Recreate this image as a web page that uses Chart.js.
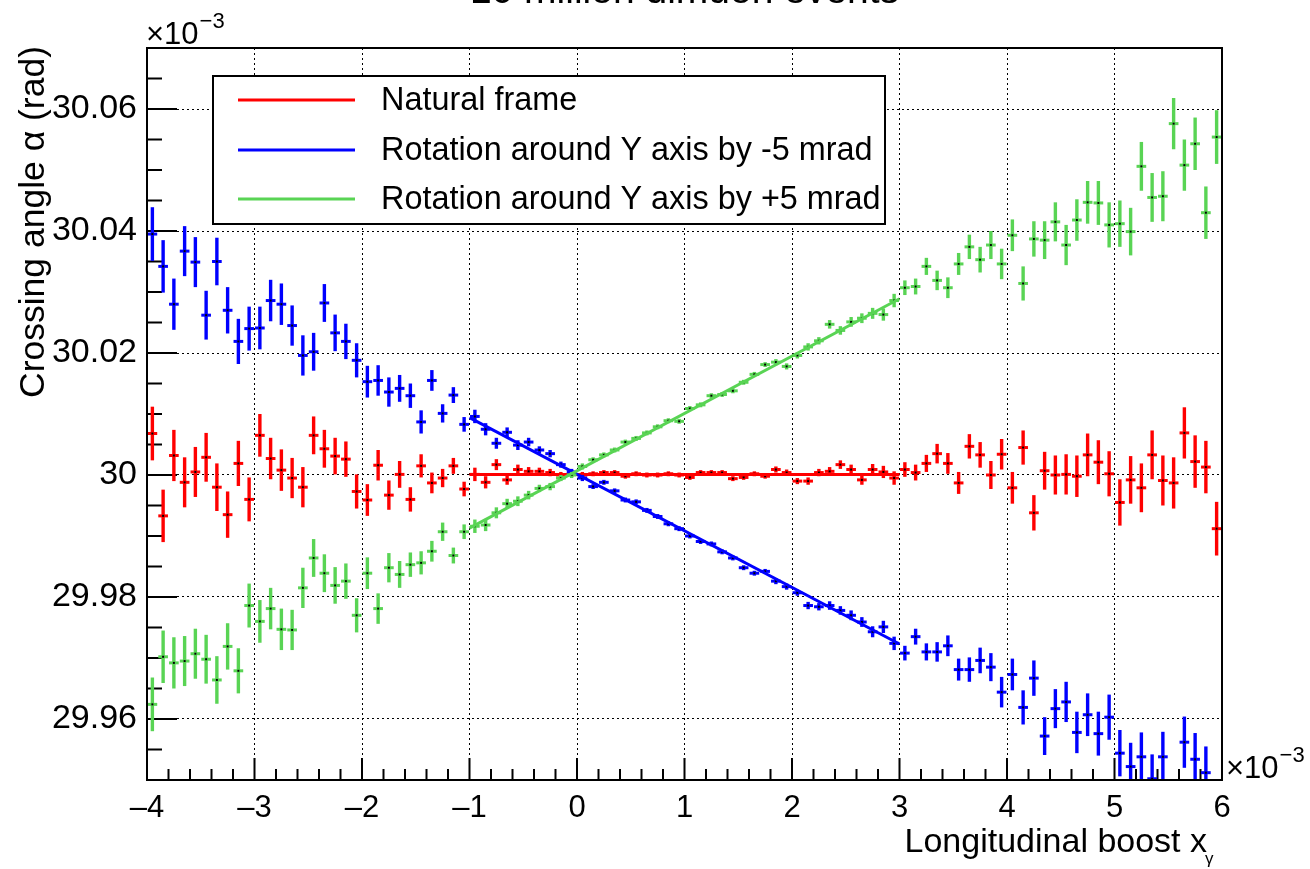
<!DOCTYPE html>
<html>
<head>
<meta charset="utf-8">
<script src="https://cdn.jsdelivr.net/npm/chart.js@4.4.0/dist/chart.umd.min.js"></script>
<style>
  html, body { margin: 0; padding: 0; background: #fff; }
  canvas { display: block; }
</style>
</head>
<body>
<canvas id="chart" width="1310" height="869"></canvas>
<script>
/* bin centres, units of 1e-3 */
const binX = [
  -3.95, -3.85, -3.75, -3.65, -3.55, -3.45, -3.35, -3.25, -3.15, -3.05,
  -2.95, -2.85, -2.75, -2.65, -2.55, -2.45, -2.35, -2.25, -2.15, -2.05,
  -1.95, -1.85, -1.75, -1.65, -1.55, -1.45, -1.35, -1.25, -1.15, -1.05,
  -0.95, -0.85, -0.75, -0.65, -0.55, -0.45, -0.35, -0.25, -0.15, -0.05,
  0.05, 0.15, 0.25, 0.35, 0.45, 0.55, 0.65, 0.75, 0.85, 0.95,
  1.05, 1.15, 1.25, 1.35, 1.45, 1.55, 1.65, 1.75, 1.85, 1.95,
  2.05, 2.15, 2.25, 2.35, 2.45, 2.55, 2.65, 2.75, 2.85, 2.95,
  3.05, 3.15, 3.25, 3.35, 3.45, 3.55, 3.65, 3.75, 3.85, 3.95,
  4.05, 4.15, 4.25, 4.35, 4.45, 4.55, 4.65, 4.75, 4.85, 4.95,
  5.05, 5.15, 5.25, 5.35, 5.45, 5.55, 5.65, 5.75, 5.85, 5.95
];

const naturalY = [
  30.0068, 29.9933, 30.0032, 29.9988, 30.0005, 30.0029, 29.9980, 29.9935, 30.0019, 29.9960,
  30.0065, 30.0027, 30.0008, 29.9995, 29.9980, 30.0065, 30.0043, 30.0031, 30.0026, 29.9973,
  29.9959, 30.0016, 29.9967, 30.0001, 29.9960, 30.0015, 29.9987, 29.9995, 30.0015, 29.9977,
  30.0001, 29.9988, 30.0017, 29.9992, 30.0009, 30.0006, 30.0006, 30.0004, 30.0000, 30.0002,
  30.0000, 30.0002, 30.0004, 30.0004, 29.9998, 30.0002, 30.0000, 30.0000, 30.0002, 30.0000,
  29.9996, 30.0004, 30.0004, 30.0004, 29.9994, 29.9996, 30.0002, 29.9998, 30.0009, 30.0004,
  29.9990, 29.9990, 30.0004, 30.0006, 30.0017, 30.0009, 29.9992, 30.0009, 30.0005, 29.9995,
  30.0009, 30.0004, 30.0019, 30.0035, 30.0019, 29.9987, 30.0047, 30.0033, 30.0000, 30.0034,
  29.9979, 30.0045, 29.9938, 30.0007, 30.0000, 30.0001, 29.9998, 30.0033, 30.0021, 30.0002,
  29.9955, 29.9992, 29.9979, 30.0033, 29.9991, 29.9987, 30.0069, 30.0022, 30.0013, 29.9912
];

const rotMinusY = [
  30.0395, 30.0342, 30.0280, 30.0367, 30.0349, 30.0262, 30.0350, 30.0270, 30.0219, 30.0240,
  30.0241, 30.0286, 30.0280, 30.0245, 30.0196, 30.0202, 30.0282, 30.0233, 30.0219, 30.0188,
  30.0153, 30.0155, 30.0136, 30.0142, 30.0130, 30.0087, 30.0155, 30.0101, 30.0131, 30.0083,
  30.0096, 30.0075, 30.0052, 30.0070, 30.0049, 30.0054, 30.0041, 30.0035, 30.0017, 30.0005,
  29.9995, 29.9981, 29.9988, 29.9974, 29.9959, 29.9956, 29.9942, 29.9932, 29.9920, 29.9912,
  29.9900, 29.9891, 29.9887, 29.9874, 29.9864, 29.9848, 29.9839, 29.9842, 29.9826, 29.9817,
  29.9807, 29.9786, 29.9784, 29.9786, 29.9778, 29.9770, 29.9759, 29.9743, 29.9751, 29.9724,
  29.9708, 29.9735, 29.9710, 29.9710, 29.9720, 29.9681, 29.9681, 29.9696, 29.9685, 29.9644,
  29.9673, 29.9619, 29.9667, 29.9572, 29.9617, 29.9628, 29.9578, 29.9607, 29.9576, 29.9603,
  29.9544, 29.9522, 29.9538, 29.9502, 29.9538, 29.9440, 29.9562, 29.9534, 29.9512, 29.9440
];

const rotPlusY = [
  29.9624, 29.9702, 29.9692, 29.9695, 29.9707, 29.9698, 29.9664, 29.9719, 29.9679, 29.9786,
  29.9760, 29.9781, 29.9747, 29.9746, 29.9815, 29.9864, 29.9839, 29.9819, 29.9826, 29.9770,
  29.9839, 29.9781, 29.9848, 29.9837, 29.9853, 29.9856, 29.9875, 29.9907, 29.9868, 29.9907,
  29.9916, 29.9918, 29.9938, 29.9953, 29.9957, 29.9967, 29.9978, 29.9981, 29.9995, 30.0000,
  30.0014, 30.0025, 30.0033, 30.0041, 30.0054, 30.0060, 30.0069, 30.0079, 30.0089, 30.0088,
  30.0109, 30.0115, 30.0130, 30.0132, 30.0138, 30.0152, 30.0165, 30.0181, 30.0185, 30.0178,
  30.0196, 30.0210, 30.0220, 30.0247, 30.0237, 30.0251, 30.0257, 30.0265, 30.0263, 30.0286,
  30.0307, 30.0309, 30.0342, 30.0319, 30.0307, 30.0346, 30.0374, 30.0353, 30.0377, 30.0346,
  30.0393, 30.0314, 30.0387, 30.0385, 30.0415, 30.0377, 30.0418, 30.0447, 30.0446, 30.0410,
  30.0412, 30.0399, 30.0506, 30.0455, 30.0457, 30.0576, 30.0508, 30.0543, 30.0430, 30.0554
];

/* half error on each bin (same statistics for the three samples) */
const binErr = [
  0.0044, 0.0043, 0.0042, 0.0041, 0.0041, 0.0040, 0.0039, 0.0038, 0.0037, 0.0036,
  0.0035, 0.0034, 0.0034, 0.0033, 0.0033, 0.0031, 0.0031, 0.0030, 0.0029, 0.0028,
  0.0026, 0.0025, 0.0024, 0.0022, 0.0020, 0.0019, 0.0017, 0.0015, 0.0013, 0.0012,
  0.0011, 0.0010, 0.0009, 0.0008, 0.0008, 0.0007, 0.0006, 0.0006, 0.0005, 0.0005,
  0.0005, 0.0004, 0.0004, 0.0004, 0.0004, 0.0004, 0.0004, 0.0004, 0.0004, 0.0004,
  0.0004, 0.0004, 0.0004, 0.0004, 0.0004, 0.0004, 0.0004, 0.0004, 0.0005, 0.0005,
  0.0005, 0.0006, 0.0006, 0.0007, 0.0007, 0.0008, 0.0008, 0.0009, 0.0010, 0.0011,
  0.0012, 0.0013, 0.0014, 0.0016, 0.0017, 0.0018, 0.0020, 0.0021, 0.0023, 0.0025,
  0.0026, 0.0028, 0.0029, 0.0031, 0.0032, 0.0033, 0.0034, 0.0035, 0.0036, 0.0037,
  0.0038, 0.0039, 0.0040, 0.0040, 0.0041, 0.0042, 0.0042, 0.0043, 0.0043, 0.0044
];

/* straight-line fits over [-1, 3] */
const fitX = [-1, 3];
const naturalFit = [30.0001, 30.0001];
const rotMinusFit = [30.0094, 29.9723];
const rotPlusFit = [29.9913, 30.0289];

const xTicks = [-4, -3, -2, -1, 0, 1, 2, 3, 4, 5, 6];
const yTicks = [29.96, 29.98, 30.00, 30.02, 30.04, 30.06];
const yTickLabels = ['29.96', '29.98', '30', '30.02', '30.04', '30.06'];

const seriesNames = ['Natural frame', 'Rotation around Y axis by -5 mrad', 'Rotation around Y axis by +5 mrad'];
const RED = '#ff0000', BLUE = '#0000ff', GREEN = '#59d454';
const FONT = '"Liberation Sans", Arial, Helvetica, sans-serif';
const HALF_BIN = 0.045;

function points(vals, color, order) {
  return {
    data: binX.map((x, i) => ({ x: x, y: vals[i] })),
    errs: binErr,
    borderColor: color,
    pointRadius: 0,
    showLine: false,
    order: order
  };
}

function fitLine(vals, color, order) {
  return {
    data: fitX.map((x, i) => ({ x: x, y: vals[i] })),
    borderColor: color,
    borderWidth: 3,
    pointRadius: 0,
    showLine: true,
    order: order
  };
}

/* ROOT style "E" error crosses */
const errorBars = {
  id: 'errorBars',
  afterDatasetDraw(chart, args) {
    const ds = chart.data.datasets[args.index];
    if (!ds.errs) return;
    const { ctx, chartArea: a } = chart;
    const xs = chart.scales.x, ys = chart.scales.y;
    ctx.save();
    ctx.beginPath();
    ctx.rect(a.left, a.top, a.right - a.left, a.bottom - a.top);
    ctx.clip();
    ctx.strokeStyle = ds.borderColor;
    ds.data.forEach((p, i) => {
      const e = ds.errs[i];
      const px = xs.getPixelForValue(p.x), py = ys.getPixelForValue(p.y);
      ctx.lineWidth = 3.4;
      ctx.beginPath();
      ctx.moveTo(px, ys.getPixelForValue(p.y - e));
      ctx.lineTo(px, ys.getPixelForValue(p.y + e));
      ctx.stroke();
      ctx.lineWidth = 3;
      ctx.beginPath();
      ctx.moveTo(xs.getPixelForValue(p.x - HALF_BIN), py);
      ctx.lineTo(xs.getPixelForValue(p.x + HALF_BIN), py);
      ctx.stroke();
      ctx.fillStyle = '#000';
      ctx.fillRect(px - 1, py - 1, 2, 2);
    });
    ctx.restore();
  }
};

function exponent(ctx, x, y) {
  ctx.font = '31px ' + FONT;
  ctx.textAlign = 'left';
  ctx.textBaseline = 'alphabetic';
  ctx.fillText('\u00d710', x, y);
  const w = ctx.measureText('\u00d710').width;
  ctx.font = '22px ' + FONT;
  ctx.fillText('\u22123', x + w + 1, y - 16);
}

/* frame, inner ticks, legend and texts */
const rootFrame = {
  id: 'rootFrame',
  beforeDatasetsDraw(chart) {
    const { ctx, chartArea: a } = chart;
    const xs = chart.scales.x, ys = chart.scales.y;
    ctx.save();
    ctx.strokeStyle = '#000';
    ctx.lineWidth = 2;
    ctx.beginPath();
    for (let k = 0; k <= 24; k++) {
      const v = 29.95 + k * 0.005;
      const major = yTicks.some(t => Math.abs(t - v) < 1e-6);
      const py = ys.getPixelForValue(v);
      ctx.moveTo(a.left, py);
      ctx.lineTo(a.left + (major ? 30 : 15), py);
    }
    for (let k = 0; k <= 50; k++) {
      const v = -4 + k * 0.2;
      const major = k % 5 === 0;
      const px = xs.getPixelForValue(v);
      ctx.moveTo(px, a.bottom);
      ctx.lineTo(px, a.bottom - (major ? 22 : 11));
    }
    ctx.stroke();
    ctx.restore();
  },
  afterDraw(chart) {
    const { ctx, chartArea: a } = chart;
    ctx.save();
    ctx.strokeStyle = '#000';
    ctx.lineWidth = 2;
    ctx.strokeRect(a.left, a.top, a.right - a.left, a.bottom - a.top);

    // legend
    const colors = [RED, BLUE, GREEN];
    ctx.fillStyle = '#fff';
    ctx.fillRect(213, 76, 672, 148);
    ctx.strokeRect(213, 76, 672, 148);
    const rows = [100, 150, 199];
    ctx.font = '32.4px ' + FONT;
    ctx.textAlign = 'left';
    ctx.textBaseline = 'middle';
    seriesNames.forEach((name, i) => {
      ctx.strokeStyle = colors[i];
      ctx.lineWidth = 3;
      ctx.beginPath();
      ctx.moveTo(238, rows[i]);
      ctx.lineTo(355, rows[i]);
      ctx.stroke();
      ctx.fillStyle = '#000';
      ctx.fillText(name, 381, rows[i] + 1);
    });

    ctx.fillStyle = '#000';
    // title, mostly cut off above the canvas
    ctx.font = '39px ' + FONT;
    ctx.textAlign = 'center';
    ctx.textBaseline = 'alphabetic';
    ctx.fillText('10 million dimuon events', (a.left + a.right) / 2, 3);

    // y axis title
    ctx.save();
    ctx.translate(44, 46);
    ctx.rotate(-Math.PI / 2);
    ctx.font = '35.5px ' + FONT;
    ctx.textAlign = 'right';
    ctx.fillText('Crossing angle \u03b1 (rad)', 0, 0);
    ctx.restore();

    // x axis title
    ctx.font = '34px ' + FONT;
    ctx.textAlign = 'right';
    ctx.fillText('Longitudinal boost x', 1207, 852);
    ctx.font = '17px ' + FONT;
    ctx.textAlign = 'left';
    ctx.fillText('\u03b3', 1205, 864);

    exponent(ctx, 146, 44);
    exponent(ctx, 1226, 778);
    ctx.restore();
  }
};

const gridOpts = { color: '#000', lineWidth: 1, drawTicks: false, borderDash: [2, 3] };

new Chart(document.getElementById('chart'), {
  type: 'scatter',
  data: {
    datasets: [
      fitLine(rotPlusFit, GREEN, 0),
      points(rotPlusY, GREEN, 1),
      fitLine(rotMinusFit, BLUE, 2),
      points(rotMinusY, BLUE, 3),
      fitLine(naturalFit, RED, 4),
      points(naturalY, RED, 5)
    ]
  },
  options: {
    responsive: false,
    animation: false,
    layout: { padding: { top: 48, right: 88, left: 0, bottom: 0 } },
    plugins: { legend: { display: false }, tooltip: { enabled: false } },
    scales: {
      x: {
        type: 'linear', min: -4, max: 6,
        afterBuildTicks: s => { s.ticks = xTicks.map(v => ({ value: v })); },
        afterFit: s => { s.height = 89; },
        ticks: {
          color: '#000', font: { family: FONT, size: 31 }, padding: 10,
          autoSkip: false, maxRotation: 0,
          callback: v => (v < 0 ? '\u2013' + (-v) : String(v))
        },
        grid: gridOpts,
        border: { display: false, dash: [2, 3] }
      },
      y: {
        type: 'linear', min: 29.95, max: 30.07,
        afterBuildTicks: s => { s.ticks = yTicks.map(v => ({ value: v })); },
        afterFit: s => { s.width = 147; },
        ticks: {
          color: '#000', font: { family: FONT, size: 34 }, padding: 10,
          autoSkip: false,
          callback: (v, i) => yTickLabels[i]
        },
        grid: gridOpts,
        border: { display: false, dash: [2, 3] }
      }
    }
  },
  plugins: [errorBars, rootFrame]
});
</script>
</body>
</html>
